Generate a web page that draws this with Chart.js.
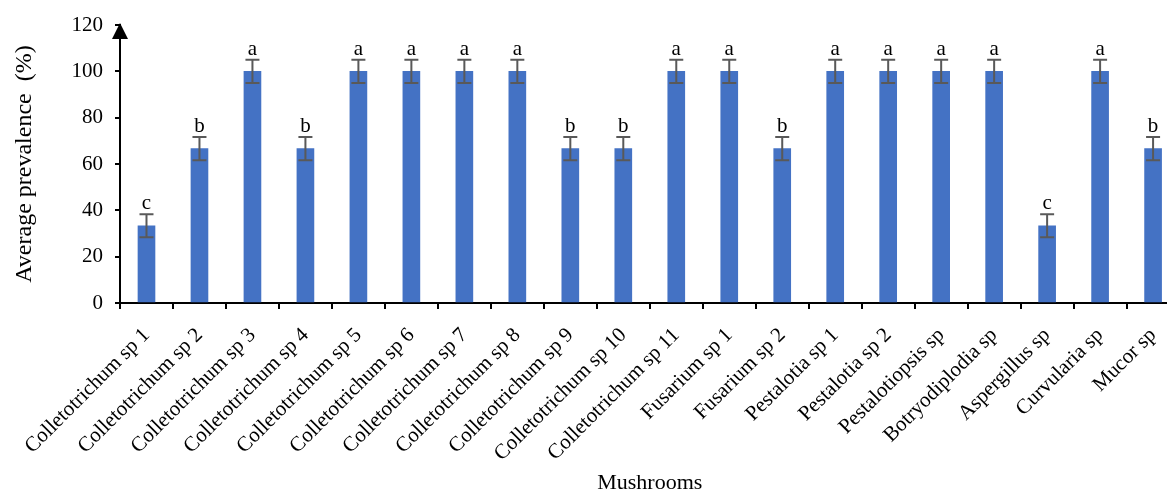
<!DOCTYPE html>
<html>
<head>
<meta charset="utf-8">
<script src="https://cdn.jsdelivr.net/npm/chart.js@4"></script>
<style>
  html, body { margin: 0; padding: 0; background: #fff; overflow: hidden; }
  #wrap { width: 1185px; height: 496px; }
</style>
</head>
<body>
<div id="wrap"><canvas id="chart" width="1185" height="496"></canvas></div>
<script>
const mushrooms = [
    'Colletotrichum sp 1', 'Colletotrichum sp 2', 'Colletotrichum sp 3', 'Colletotrichum sp 4',
    'Colletotrichum sp 5', 'Colletotrichum sp 6', 'Colletotrichum sp 7', 'Colletotrichum sp 8',
    'Colletotrichum sp 9', 'Colletotrichum sp 10', 'Colletotrichum sp 11', 'Fusarium sp 1',
    'Fusarium sp 2', 'Pestalotia sp 1', 'Pestalotia sp 2', 'Pestalotiopsis sp',
    'Botryodiplodia sp', 'Aspergillus sp', 'Curvularia sp', 'Mucor sp'
];
const prevalence = [33.33, 66.67, 100, 66.67, 100, 100, 100, 100, 66.67, 66.67, 100, 100, 66.67, 100, 100, 100, 100, 33.33, 100, 66.67];
const errors = [5, 5, 5, 5, 5, 5, 5, 5, 5, 5, 5, 5, 5, 5, 5, 5, 5, 5, 5, 5];
const groups = ['c', 'b', 'a', 'b', 'a', 'a', 'a', 'a', 'b', 'b', 'a', 'a', 'b', 'a', 'a', 'a', 'a', 'c', 'a', 'b'];
const yTicks = [0, 20, 40, 60, 80, 100, 120];

const serif = "'Liberation Serif', 'Times New Roman', serif";

// error bars, group letters and the arrow on the y axis
const extras = {
    id: 'extras',
    afterDatasetsDraw(chart) {
        const ctx = chart.ctx;
        const y = chart.scales.y;
        const meta = chart.getDatasetMeta(0);
        ctx.save();
        meta.data.forEach((bar, i) => {
            const top = y.getPixelForValue(prevalence[i] + errors[i]);
            const bottom = y.getPixelForValue(prevalence[i] - errors[i]);
            ctx.strokeStyle = '#595959';
            ctx.lineWidth = 2;
            ctx.beginPath();
            ctx.moveTo(bar.x, top); ctx.lineTo(bar.x, bottom);
            ctx.moveTo(bar.x - 7, top); ctx.lineTo(bar.x + 7, top);
            ctx.moveTo(bar.x - 7, bottom); ctx.lineTo(bar.x + 7, bottom);
            ctx.stroke();
            ctx.fillStyle = '#000';
            ctx.font = '21px ' + serif;
            ctx.textAlign = 'center';
            ctx.textBaseline = 'alphabetic';
            ctx.fillText(groups[i], bar.x, top - 5);
        });
        const ax = chart.chartArea.left;
        const at = y.getPixelForValue(120);
        ctx.fillStyle = '#000';
        ctx.beginPath();
        ctx.moveTo(ax, at - 2);
        ctx.lineTo(ax - 8, at + 14);
        ctx.lineTo(ax + 8, at + 14);
        ctx.closePath();
        ctx.fill();
        ctx.restore();
    }
};

new Chart(document.getElementById('chart'), {
    type: 'bar',
    data: {
        labels: mushrooms,
        datasets: [{
            data: prevalence,
            backgroundColor: '#4472C4',
            barThickness: 17
        }]
    },
    options: {
        responsive: false,
        animation: false,
        layout: { padding: { top: 25, right: 4, bottom: 0, left: 10 } },
        plugins: {
            legend: { display: false },
            tooltip: { enabled: false }
        },
        scales: {
            x: {
                afterFit: (scale) => { scale.height = 193; },
                border: { color: '#000', width: 2 },
                grid: { drawOnChartArea: false, color: '#000', lineWidth: 2, tickLength: 6, offset: true },
                ticks: {
                    color: '#000',
                    font: { family: serif, size: 21 },
                    minRotation: 45,
                    maxRotation: 45,
                    autoSkip: false,
                    padding: 14
                },
                title: {
                    display: true,
                    text: 'Mushrooms',
                    color: '#000',
                    font: { family: serif, size: 22 },
                    padding: { top: 0, bottom: 0 }
                }
            },
            y: {
                min: 0,
                max: 120,
                afterFit: (scale) => { scale.width = 110; },
                afterBuildTicks: (scale) => { scale.ticks = yTicks.map(v => ({ value: v })); },
                border: { color: '#000', width: 2 },
                grid: { drawOnChartArea: false, color: '#000', lineWidth: 2, tickLength: 5 },
                ticks: {
                    color: '#000',
                    font: { family: serif, size: 21 },
                    padding: 12
                },
                title: {
                    display: true,
                    text: 'Average prevalence  (%)',
                    color: '#000',
                    font: { family: serif, size: 24 },
                    padding: { top: 0, bottom: 0 }
                }
            }
        }
    },
    plugins: [extras]
});
</script>
</body>
</html>
